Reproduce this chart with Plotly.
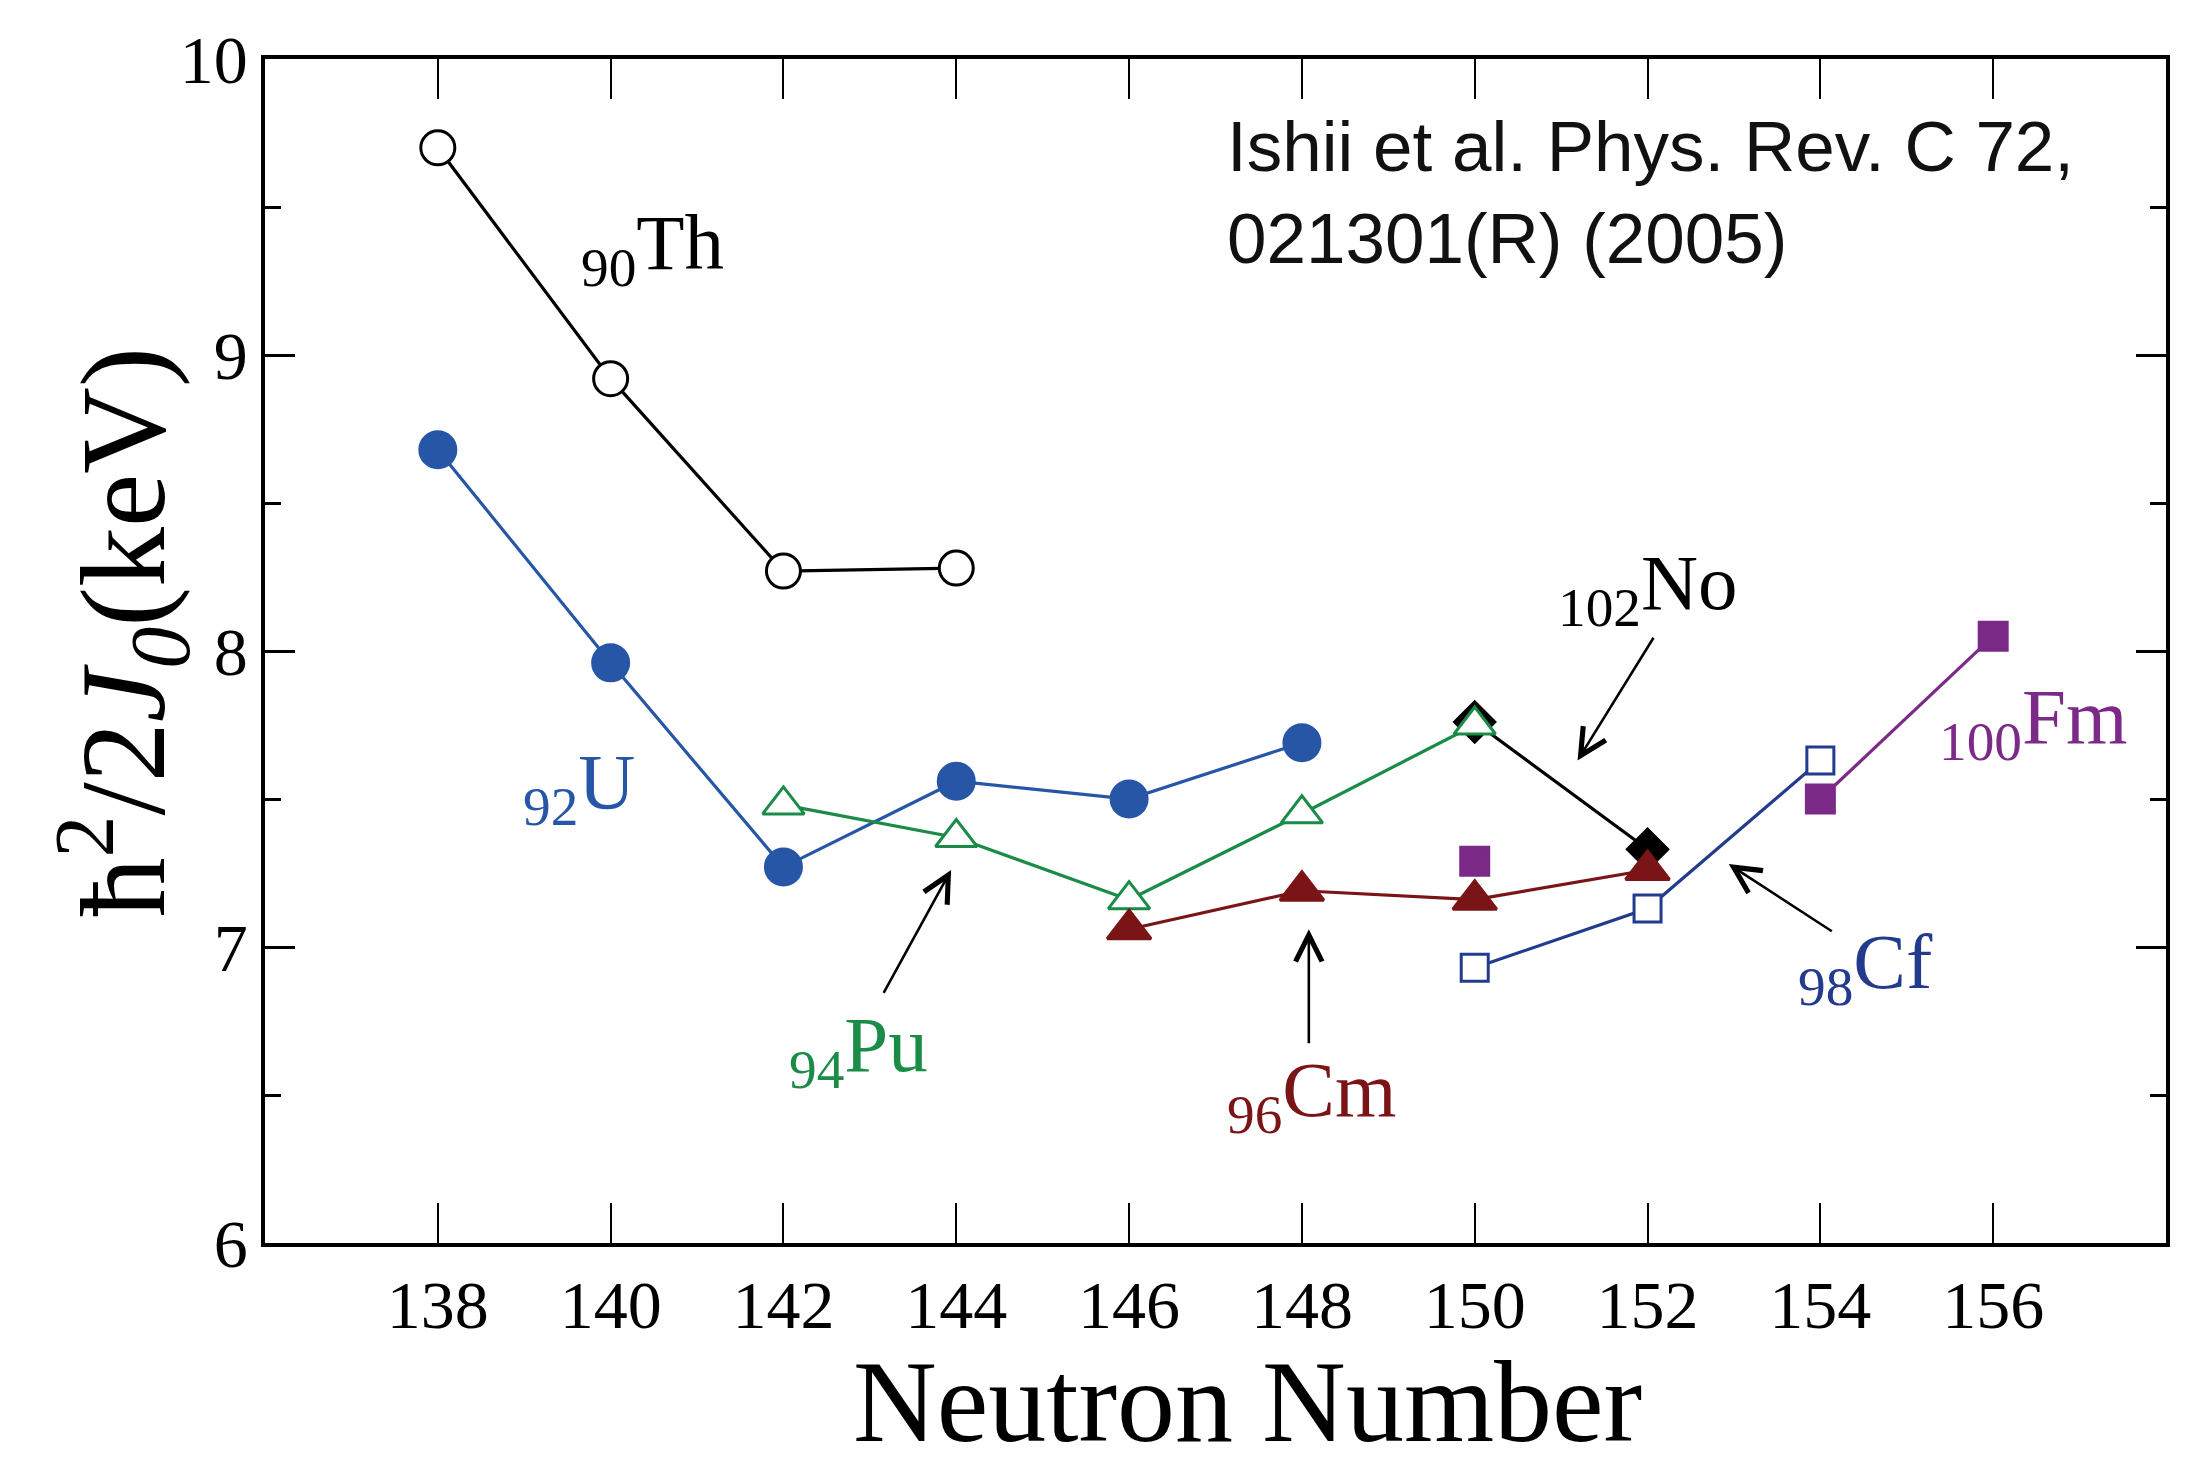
import plotly.graph_objects as go

# ---------------- data ----------------
th_n = [138, 140, 142, 144]
th_v = [9.70, 8.92, 8.27, 8.28]

u_n = [138, 140, 142, 144, 146, 148]
u_v = [8.68, 7.96, 7.27, 7.56, 7.50, 7.69]

pu_n = [142, 144, 146, 148, 150]
pu_v = [7.48, 7.37, 7.16, 7.45, 7.75]

cm_n = [146, 148, 150, 152]
cm_v = [7.06, 7.19, 7.16, 7.26]

no_n = [150, 152]
no_v = [7.76, 7.33]

cf_n = [150, 152, 154]
cf_v = [6.93, 7.13, 7.63]

fm_n = [150, 152, 154, 156]
fm_v = [7.29, None, 7.50, 8.05]

x_ticks = [138, 140, 142, 144, 146, 148, 150, 152, 154, 156]
y_ticks = [6, 7, 8, 9, 10]

# ---------------- styles ----------------
SERIF = "Liberation Serif, Times New Roman, serif"
SANS = "Liberation Sans, Arial, sans-serif"
C_TH = "#000000"
C_U = "#2756a7"
C_PU = "#1a8c48"
C_CM = "#7a1416"
C_NO = "#000000"
C_CF = "#233b8c"
C_FM = "#7b2a88"
LW = 3.2

fig = go.Figure()


def add(xs, ys, color, symbol, size, fill, name):
    fig.add_trace(go.Scatter(
        x=xs, y=ys, mode="lines+markers", name=name,
        connectgaps=False,
        line=dict(color=color, width=LW),
        marker=dict(symbol=symbol, size=size, color=fill,
                    line=dict(color=color, width=3)),
        showlegend=False,
    ))


add(th_n, th_v, C_TH, "circle", 34, "white", "Th")
add(u_n, u_v, C_U, "circle", 36, C_U, "U")
add(no_n, no_v, C_NO, "diamond", 31, C_NO, "No")
add(pu_n, pu_v, C_PU, "triangle-up", 36, "white", "Pu")
add(cm_n, cm_v, C_CM, "triangle-up", 38, C_CM, "Cm")
add(fm_n, fm_v, C_FM, "square", 28, C_FM, "Fm")
add(cf_n, cf_v, C_CF, "square", 27, "white", "Cf")

# ---------------- labels ----------------
labels = [
    ("<sub>90</sub>Th", 140.48, 9.36, C_TH),
    ("<sub>92</sub>U", 139.63, 7.54, C_U),
    ("<sub>94</sub>Pu", 142.87, 6.65, C_PU),
    ("<sub>96</sub>Cm", 148.11, 6.50, C_CM),
    ("<sub>102</sub>No", 152.01, 8.21, C_NO),
    ("<sub>98</sub>Cf", 154.52, 6.93, C_CF),
    ("<sub>100</sub>Fm", 156.46, 7.76, C_FM),
]
for txt, lx, ly, col in labels:
    fig.add_annotation(x=lx, y=ly, text=txt, showarrow=False,
                       font=dict(family=SERIF, size=79, color=col),
                       xanchor="center", yanchor="middle")

arrows = [
    # (head x, head y, tail x, tail y)
    (143.94, 7.26, 143.15, 6.84),
    (148.08, 7.06, 148.08, 6.67),
    (151.19, 7.63, 152.08, 8.05),
    (152.94, 7.28, 154.15, 7.05),
]
for hx, hy, tx, ty in arrows:
    fig.add_annotation(x=hx, y=hy, ax=tx, ay=ty, xref="x", yref="y",
                       axref="x", ayref="y", text="", showarrow=True,
                       arrowhead=5, arrowsize=2.0, arrowwidth=2.6,
                       arrowcolor="black", standoff=0, startstandoff=0)

fig.add_annotation(x=147.11, y=9.55, xref="x", yref="y",
                   text="Ishii et al. Phys. Rev. C 72,<br>021301(R) (2005)",
                   showarrow=False, align="left",
                   xanchor="left", yanchor="middle",
                   font=dict(family=SANS, size=71, color="#111111"))

# axis titles
fig.add_annotation(x=-0.075, y=0.516, xref="paper", yref="paper",
                   text="ħ<sup>2</sup>/2<i>J<sub>0</sub></i>(keV)",
                   textangle=-90, showarrow=False,
                   xanchor="center", yanchor="middle",
                   font=dict(family=SERIF, size=120, color="black"))
fig.add_annotation(x=0.5166, y=-0.134, xref="paper", yref="paper",
                   text="Neutron Number", showarrow=False,
                   xanchor="center", yanchor="middle",
                   font=dict(family=SERIF, size=116, color="black"))

fig.update_xaxes(
    range=[136, 158], tickmode="array", tickvals=x_ticks,
    ticktext=[str(v) for v in x_ticks],
    ticks="inside", ticklen=40, tickwidth=2.2, tickcolor="black",
    showline=True, linewidth=3.5, linecolor="black", mirror="allticks",
    showgrid=False, zeroline=False,
    tickfont=dict(family=SERIF, size=68, color="black"),
)
fig.update_yaxes(
    range=[6, 10], tickmode="array", tickvals=y_ticks,
    ticktext=[str(v) for v in y_ticks],
    ticks="inside", ticklen=30, tickwidth=3, tickcolor="black",
    minor=dict(dtick=0.5, ticks="inside", ticklen=16, tickwidth=3,
               tickcolor="black", showgrid=False),
    showline=True, linewidth=3.5, linecolor="black", mirror="allticks",
    showgrid=False, zeroline=False,
    tickfont=dict(family=SERIF, size=68, color="black"),
)

fig.update_layout(
    width=2191, height=1469,
    margin=dict(l=265, r=25, t=59, b=226),
    paper_bgcolor="white", plot_bgcolor="white",
)

fig.write_html("out.html")
